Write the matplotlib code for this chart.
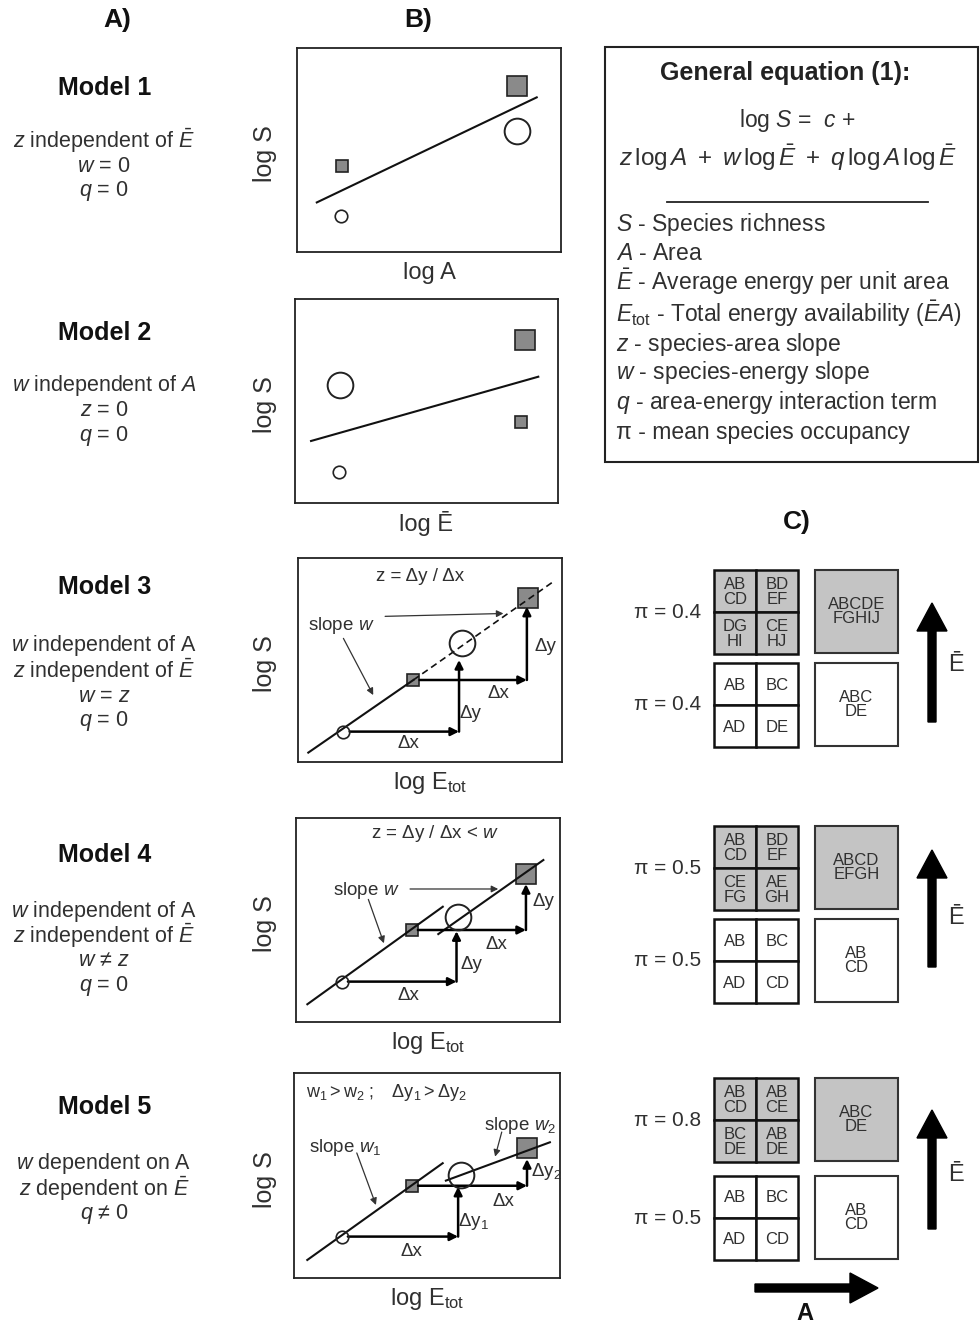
import numpy as np
import matplotlib
matplotlib.use("Agg")
import matplotlib.pyplot as plt
from matplotlib.patches import Rectangle, FancyArrow

plt.rcParams['font.family'] = ['Liberation Sans', 'DejaVu Sans']
plt.rcParams['mathtext.fontset'] = 'custom'
plt.rcParams['mathtext.rm'] = 'Liberation Sans'
plt.rcParams['mathtext.it'] = 'Liberation Sans:italic'
plt.rcParams['mathtext.bf'] = 'Liberation Sans:bold'

# ---- column A : model descriptions ----
model_titles = ['Model 1', 'Model 2', 'Model 3', 'Model 4', 'Model 5']
model_notes = [
    [r'$z$ independent of $\bar{E}$', r'$w$ = 0', r'$q$ = 0'],
    [r'$w$ independent of $A$', r'$z$ = 0', r'$q$ = 0'],
    [r'$w$ independent of A', r'$z$ independent of $\bar{E}$', r'$w$ = $z$', r'$q$ = 0'],
    [r'$w$ independent of A', r'$z$ independent of $\bar{E}$', r'$w$ ≠ $z$', r'$q$ = 0'],
    [r'$w$ dependent on A', r'$z$ dependent on $\bar{E}$', r'$q$ ≠ 0'],
]

# ---- column B : schematic panels, positions in frame units (0-1) ----
xlabels = ['log A', 'log Ē', r'log E$_{\mathrm{tot}}$', r'log E$_{\mathrm{tot}}$', r'log E$_{\mathrm{tot}}$']
sq_small_xy = [(0.169, 0.422), (0.859, 0.399), (0.437, 0.402), (0.438, 0.451), (0.443, 0.450)]
sq_big_xy = [(0.832, 0.814), (0.875, 0.799), (0.872, 0.802), (0.871, 0.725), (0.877, 0.632)]
circ_small_xy = [(0.167, 0.176), (0.168, 0.150), (0.172, 0.149), (0.173, 0.198), (0.179, 0.202)]
circ_big_xy = [(0.832, 0.593), (0.171, 0.578), (0.620, 0.582), (0.615, 0.513), (0.627, 0.502)]
fit_lines = [
    [[(0.075, 0.243), (0.908, 0.758)]],
    [[(0.061, 0.304), (0.925, 0.619)]],
    [[(0.039, 0.046), (0.437, 0.402)]],
    [[(0.043, 0.087), (0.556, 0.565)], [(0.539, 0.431), (0.937, 0.794)]],
    [[(0.050, 0.088), (0.559, 0.560)], [(0.571, 0.475), (0.962, 0.662)]],
]
dashed_line = [(0.437, 0.402), (0.967, 0.884)]  # model 3 extension

# step arrows for models 3-5
step1_x = [0.610, 0.608, 0.617]
step1_top = [0.500, 0.445, 0.445]
step2_x = [0.867, 0.871, 0.876]
step2_top = [0.761, 0.676, 0.580]
dx1_lab = [(0.417, 0.092), (0.425, 0.132), (0.443, 0.128)]
dy1_lab = [(0.655, 0.239), (0.664, 0.284), (0.673, 0.278)]
dx2_lab = [(0.758, 0.337), (0.760, 0.378), (0.787, 0.372)]
dy2_lab = [(0.936, 0.565), (0.937, 0.590), (0.950, 0.518)]
dy1_txt = ['Δy', 'Δy', r'$\mathrm{\Delta y}_1$']
dy2_txt = ['Δy', 'Δy', r'$\mathrm{\Delta y}_2$']

# ---- column C : occupancy grids ----
grid_top_cells = [
    ['AB\nCD', 'BD\nEF', 'DG\nHI', 'CE\nHJ'],
    ['AB\nCD', 'BD\nEF', 'CE\nFG', 'AE\nGH'],
    ['AB\nCD', 'AB\nCE', 'BC\nDE', 'AB\nDE'],
]
grid_bot_cells = [
    ['AB', 'BC', 'AD', 'DE'],
    ['AB', 'BC', 'AD', 'CD'],
    ['AB', 'BC', 'AD', 'CD'],
]
big_top = ['ABCDE\nFGHIJ', 'ABCD\nEFGH', 'ABC\nDE']
big_bot = ['ABC\nDE', 'AB\nCD', 'AB\nCD']
pi_top = [0.4, 0.5, 0.8]
pi_bot = [0.4, 0.5, 0.5]

definitions = [
    r'$S$ - Species richness',
    r'$A$ - Area',
    r'$\bar{E}$ - Average energy per unit area',
    r'$E_{\mathrm{tot}}$ - Total energy availability ($\bar{E}A$)',
    r'$z$ - species-area slope',
    r'$w$ - species-energy slope',
    r'$q$ - area-energy interaction term',
    'π - mean species occupancy',
]

TXT = '#303030'
GRAY = '#8a8a8a'
LIGHT = '#c4c4c4'

W, H = 980, 1324
fig = plt.figure(figsize=(W / 100, H / 100), dpi=100)
bg = fig.add_axes([0, 0, 1, 1])
bg.set_xlim(0, W)
bg.set_ylim(H, 0)
bg.axis('off')

# headers
for lab, x, y in [('A)', 117, 20), ('B)', 418, 20), ('C)', 797, 522)]:
    bg.text(x, y, lab, fontsize=19, fontweight='bold', ha='center', va='center', color='#111')

# column A
title_y = [88, 333, 587, 855, 1107]
note_y = [141, 386, 646, 911, 1164]
for t, ty, notes, ny in zip(model_titles, title_y, model_notes, note_y):
    bg.text(105, ty, t, fontsize=18, fontweight='bold', ha='center', va='center', color='#111')
    for k, line in enumerate(notes):
        bg.text(104, ny + 25 * k, line, fontsize=15.5, ha='center', va='center', color=TXT)

# column B
frames = [(297, 48, 561, 252), (295, 299, 558, 503), (298, 558, 562, 762),
          (296, 818, 560, 1022), (294, 1073, 560, 1278)]


def arrow(ax, a, b, lw=1.8, ms=12, color='black', sa=0, sb=0):
    ax.annotate('', xy=b, xytext=a,
                arrowprops=dict(arrowstyle='-|>', lw=lw, color=color,
                                mutation_scale=ms, shrinkA=sa, shrinkB=sb))


for i, (x0, y0, x1, y1) in enumerate(frames):
    ax = fig.add_axes([x0 / W, 1 - y1 / H, (x1 - x0) / W, (y1 - y0) / H])
    ax.set_xlim(0, 1)
    ax.set_ylim(0, 1)
    ax.set_xticks([])
    ax.set_yticks([])
    for s in ax.spines.values():
        s.set_linewidth(1.3)
        s.set_color('#222')

    ax.plot(*sq_small_xy[i], 's', ms=8.5, mfc=GRAY, mec='#222', mew=1.2, zorder=2)
    ax.plot(*sq_big_xy[i], 's', ms=15, mfc=GRAY, mec='#222', mew=1.2, zorder=2)
    ax.plot(*circ_small_xy[i], 'o', ms=9, mfc='none', mec='#222', mew=1.2, zorder=4)
    ax.plot(*circ_big_xy[i], 'o', ms=18.5, mfc='none', mec='#222', mew=1.4, zorder=4)
    for seg in fit_lines[i]:
        (xa, ya), (xb, yb) = seg
        ax.plot([xa, xb], [ya, yb], color='#111', lw=1.5, zorder=3)
    if i == 2:
        (xa, ya), (xb, yb) = dashed_line
        ax.plot([xa, xb], [ya, yb], color='#111', lw=1.2, ls=(0, (4, 2.5)), zorder=3)

    cx = (x0 + x1) / 2
    bg.text(cx, y1 + 21, xlabels[i], fontsize=17, ha='center', va='center', color=TXT)
    bg.text(265, (y0 + y1) / 2 + 4, 'log S', fontsize=18, rotation=90,
            ha='center', va='center', color=TXT)

    if i >= 2:
        j = i - 2
        c0 = circ_small_xy[i]
        s0 = sq_small_xy[i]
        arrow(ax, c0, (step1_x[j], c0[1]), sa=4.5)
        arrow(ax, (step1_x[j], c0[1]), (step1_x[j], step1_top[j]))
        arrow(ax, s0, (step2_x[j], s0[1]), sa=4.5)
        arrow(ax, (step2_x[j], s0[1]), (step2_x[j], step2_top[j]))
        ax.text(*dx1_lab[j], 'Δx', fontsize=13.5, ha='center', va='center', color=TXT)
        ax.text(*dx2_lab[j], 'Δx', fontsize=13.5, ha='center', va='center', color=TXT)
        ax.text(*dy1_lab[j], dy1_txt[j], fontsize=13.5, ha='center', va='center', color=TXT)
        ax.text(*dy2_lab[j], dy2_txt[j], fontsize=13.5, ha='center', va='center', color=TXT)

# panel-specific annotations
axes_b = fig.axes[1:]
a3, a4, a5 = axes_b[2], axes_b[3], axes_b[4]
a3.text(0.462, 0.908, 'z = Δy / Δx', fontsize=13.5, ha='center', va='center', color=TXT)
a3.text(0.165, 0.671, r'slope $w$', fontsize=13.5, ha='center', va='center', color=TXT)
arrow(a3, (0.330, 0.714), (0.778, 0.728), lw=0.9, ms=10, color='#333')
arrow(a3, (0.172, 0.606), (0.285, 0.328), lw=0.9, ms=10, color='#333')

a4.text(0.527, 0.922, r'z = Δy / Δx < $w$', fontsize=13.5, ha='center', va='center', color=TXT)
a4.text(0.268, 0.647, r'slope $w$', fontsize=13.5, ha='center', va='center', color=TXT)
arrow(a4, (0.432, 0.652), (0.766, 0.652), lw=0.9, ms=10, color='#333')
arrow(a4, (0.274, 0.601), (0.333, 0.386), lw=0.9, ms=10, color='#333')

a5.text(0.045, 0.906, r'$\mathrm{w}_1 > \mathrm{w}_2\ ;\ \ \ \mathrm{\Delta y}_1 > \mathrm{\Delta y}_2$',
        fontsize=13, ha='left', va='center', color=TXT)
a5.text(0.192, 0.635, r'slope $w_1$', fontsize=13.5, ha='center', va='center', color=TXT)
a5.text(0.850, 0.744, r'slope $w_2$', fontsize=13.5, ha='center', va='center', color=TXT)
arrow(a5, (0.236, 0.610), (0.308, 0.356), lw=0.9, ms=10, color='#333')
arrow(a5, (0.781, 0.712), (0.756, 0.592), lw=0.9, ms=10, color='#333')

# equation box
bg.add_patch(Rectangle((605, 47), 373, 415, fill=False, lw=1.5, ec='#222'))
bg.text(785, 73, 'General equation (1):', fontsize=18, fontweight='bold',
        ha='center', va='center', color='#222')
bg.text(797, 121, r'log $S$ =  $c$ +', fontsize=16.5, ha='center', va='center', color=TXT)
bg.text(788, 158, r'$z\,\mathrm{log}\,A\ +\ w\,\mathrm{log}\,\bar{E}\ +\ q\,\mathrm{log}\,A\,\mathrm{log}\,\bar{E}$',
        fontsize=17.5, ha='center', va='center', color=TXT)
bg.plot([667, 928], [202, 202], color='#222', lw=1.3)
def_y = [225, 253, 282, 314, 345, 373, 403, 432]
for txt, y in zip(definitions, def_y):
    bg.text(616, y, txt, fontsize=16.5, ha='left', va='center', color=TXT)

# column C
row_tops = [(570, 663), (826, 919), (1078, 1176)]
arrow_span = [(722, 603), (967, 850), (1229, 1110)]
ebar_y = [665, 918, 1175]
gx0, cell = 714, 42
bx0, big = 815, 83
for g in range(3):
    for r, (cells, bigtxt, fill, pi) in enumerate([
            (grid_top_cells[g], big_top[g], LIGHT, pi_top[g]),
            (grid_bot_cells[g], big_bot[g], 'white', pi_bot[g])]):
        top = row_tops[g][r]
        for k, ct in enumerate(cells):
            cx = gx0 + (k % 2) * cell
            cy = top + (k // 2) * cell
            bg.add_patch(Rectangle((cx, cy), cell, cell, fc=fill, ec='#111', lw=1.8, zorder=2))
            bg.text(cx + cell / 2, cy + cell / 2 + 1, ct, fontsize=12, ha='center', va='center',
                    color=TXT, linespacing=0.95, zorder=3)
        bg.add_patch(Rectangle((bx0, top), big, big, fc=fill, ec='#333', lw=1.5, zorder=2))
        bg.text(bx0 + big / 2, top + big / 2, bigtxt, fontsize=12, ha='center', va='center',
                color=TXT, linespacing=0.9, zorder=3)
        bg.text(668, top + cell, f'π = {pi}', fontsize=15, ha='center', va='center', color=TXT)
    yb, yt = arrow_span[g]
    bg.add_patch(FancyArrow(932, yb, 0, yt - yb, width=8, head_width=30, head_length=28,
                            length_includes_head=True, fc='black', ec='black'))
    bg.text(956, ebar_y[g], 'Ē', fontsize=17, ha='center', va='center', color=TXT)

bg.add_patch(FancyArrow(755, 1288, 123, 0, width=8, head_width=30, head_length=28,
                        length_includes_head=True, fc='black', ec='black'))
bg.text(805, 1313, 'A', fontsize=17, fontweight='bold', ha='center', va='center', color='#111')

fig.savefig('out.png', dpi=100, facecolor='white')
